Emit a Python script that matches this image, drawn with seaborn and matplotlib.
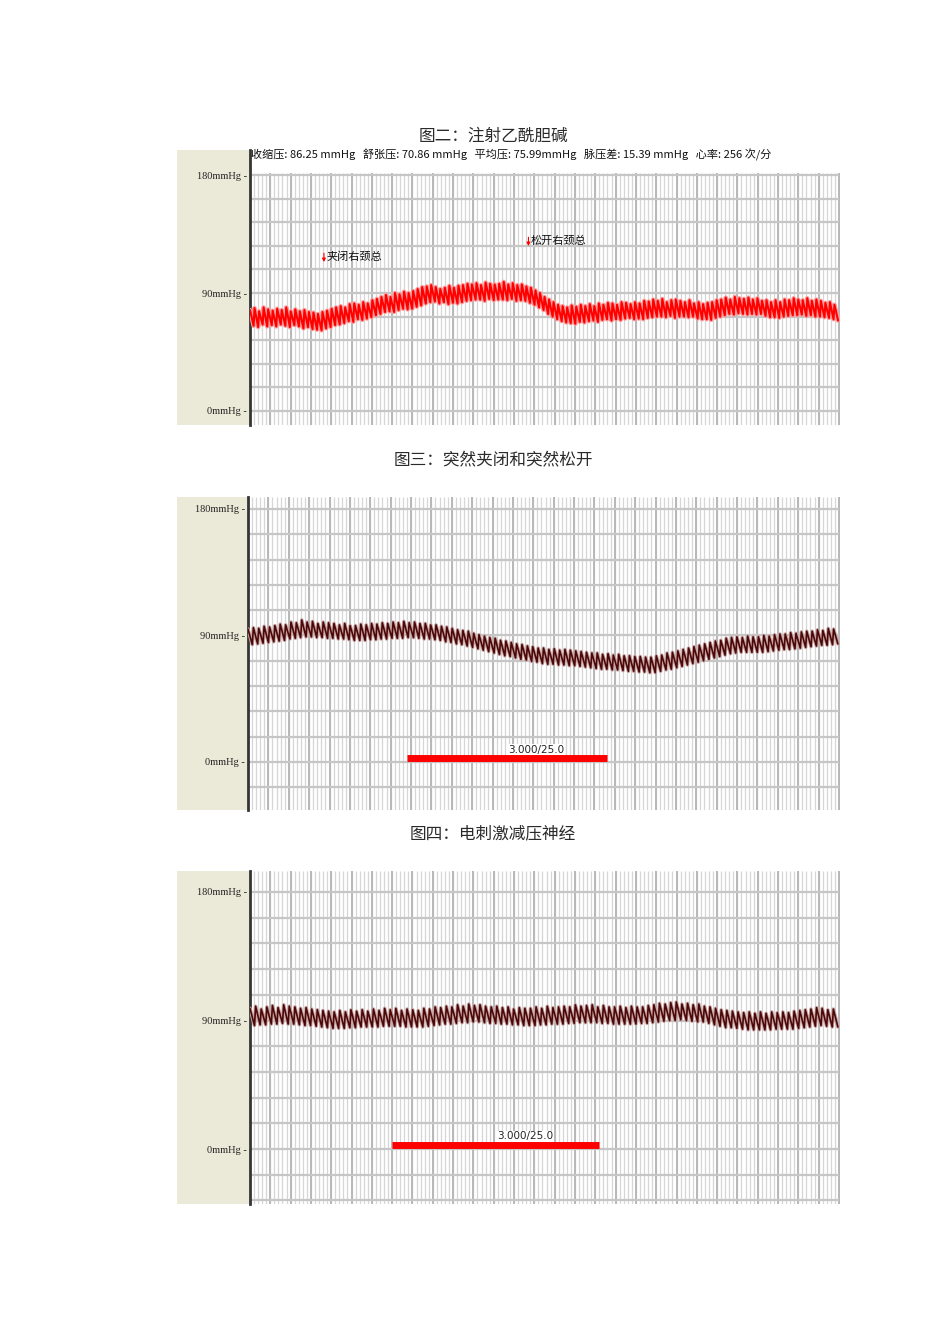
import numpy as np
import seaborn as sns
import matplotlib.pyplot as plt
from matplotlib.patches import Rectangle

sns.set_style('white')
plt.rcParams['font.family'] = ['Noto Sans CJK SC', 'DejaVu Sans']

# --- data (mmHg, one value per heart beat) ---
titles = ['图二：注射乙酰胆碱', '图三：突然夹闭和突然松开', '图四：电刺激减压神经']
header = ('收缩压: 86.25 mmHg   舒张压: 70.86 mmHg   平均压: 75.99mmHg   '
          '脉压差: 15.39 mmHg   心率: 256 次/分')
ytick_vals = [0, 90, 180]
ytick_labels = ['0mmHg -', '90mmHg -', '180mmHg -']

# fig 2: acetylcholine (red trace)
sys1 = [77, 78.5, 76, 79, 77.5, 76.5, 78, 77, 79, 76, 77.5, 76, 77, 75.5, 75,
        74, 75.5, 76.5, 78, 79, 80, 79, 81.5, 82, 81, 83, 82, 84.5, 85.5, 87,
        88.5, 87, 90, 89, 91, 90, 91.5, 93, 94.5, 95, 96, 94.5, 93, 94, 95.5,
        94, 95.5, 96, 97, 96.5, 97.5, 96, 98, 97, 96.5, 97, 98.5, 96.5, 97.5, 96,
        96.5, 95, 94, 92, 90, 87, 85, 83, 81, 80, 79, 80.5, 79.5, 81, 80,
        81.5, 80, 82, 81, 82.5, 82, 81, 83, 82.5, 81.5, 83, 82, 84, 83.5, 85,
        84, 85.5, 83, 84.5, 85, 84, 83, 84.5, 82, 83, 81.5, 82.5, 83, 84.5, 85,
        86.5, 85, 87, 86, 85.5, 86.5, 85, 86, 84, 84.5, 83, 84.5, 83, 85, 84.5,
        86, 85, 84.5, 86, 84, 85, 84, 82.5, 83, 81]
dia1 = [65, 64, 66, 64.5, 65.5, 64.5, 66, 65, 64, 65.5, 64.5, 63, 64, 62.5, 62,
        61.5, 63, 64, 65.5, 66, 67, 68.5, 68, 70, 69.5, 70.5, 71.5, 73, 74, 75.5,
        76, 75.5, 77, 78, 77.5, 78, 79.5, 80.5, 82, 83, 83.5, 82, 83, 81.5, 82.5,
        82, 83, 84, 84.5, 85, 85, 84, 85.5, 84.5, 85, 85, 84.5, 85.5, 84, 84.5,
        84, 82.5, 81, 79, 77, 74, 72, 70, 68.5, 67.5, 67, 66.5, 68, 67.5, 68.5,
        69, 68, 69.5, 70, 69, 70, 69.5, 70.5, 71, 70, 70.5, 70, 71, 71.5, 72,
        72, 71.5, 72.5, 71, 72, 72, 71.5, 72, 70.5, 70, 70, 69.5, 71, 72, 73,
        74, 73.5, 74.5, 74, 73.5, 74, 73.5, 74, 72.5, 71.5, 71.5, 71, 72, 72.5, 73,
        73, 73.5, 72.5, 73, 72, 72, 71.5, 71, 70, 69]

# fig 3: sudden clamp / release
sys2 = [94.5, 95.5, 95, 96.5, 96, 97, 98, 97.5, 99.5, 99, 101, 99.5, 100, 98.5, 99.5,
        99, 98.5, 97.5, 98.5, 97, 97, 98, 97.5, 98.5, 98, 99, 98.5, 99.5, 99, 100,
        99, 99.5, 98.5, 98.5, 97.5, 97.5, 96.5, 96, 95, 94, 93.5, 93, 91.5, 90.5, 89.5,
        88.5, 88, 86.5, 86, 85, 84, 83.5, 82.5, 82, 81, 81, 80, 80.5, 79.5, 80,
        79.5, 79, 78.5, 78, 77.5, 77.5, 76.5, 77, 76, 76.5, 75.5, 75.5, 75, 75, 74.5,
        74.5, 75.5, 76, 77.5, 78, 79, 80, 81, 82, 83, 84, 85, 86, 86.5, 88,
        88.5, 89, 88.5, 89.5, 89, 89, 90, 89.5, 90.5, 91, 91, 92, 91.5, 92.5, 93,
        93, 94, 93.5, 95, 94.5]
dia2 = [83.5, 84, 84.5, 85, 85.5, 86, 86.5, 87.5, 88, 88.5, 89, 89, 88.5, 88.5, 88,
        88, 87.5, 87.5, 87, 86.5, 86.5, 86.5, 87, 87, 87.5, 87.5, 88, 88, 88, 88.5,
        88.5, 88, 87.5, 87.5, 87, 86.5, 85.5, 85, 84, 83.5, 82.5, 81.5, 80.5, 79.5, 78.5,
        77.5, 76.5, 75.5, 75, 74, 73, 72.5, 71.5, 71, 70, 69.5, 69.5, 69, 69, 68.5,
        68.5, 68, 67.5, 67, 66.5, 66, 66, 65.5, 65.5, 65, 64.5, 64.5, 64, 64, 63.5,
        63.5, 64.5, 65.5, 66, 67, 68, 69, 70, 71, 72, 73, 74, 75, 76, 77,
        77.5, 78, 78, 78, 78, 78, 78.5, 79, 79.5, 80, 80, 80.5, 81, 81.5, 82,
        82.5, 83, 83, 83.5, 84]

# fig 4: depressor nerve stimulation
sys3 = [98.5, 100, 98, 99.5, 100.5, 99, 101, 100, 99.5, 98.5, 99, 98, 97.5, 97, 96.5,
        96, 97, 96, 97.5, 96.5, 97.5, 96.5, 98, 97, 98.5, 97.5, 98.5, 97, 98, 97.5,
        97, 98.5, 98, 99.5, 99, 100, 99.5, 101, 100, 101.5, 100.5, 101, 100, 99.5, 100,
        99, 99.5, 98, 99, 98.5, 98.5, 99.5, 98.5, 100, 99, 99.5, 100, 99.5, 101, 100,
        100.5, 101, 99.5, 100.5, 99.5, 99.5, 100, 99, 100, 99.5, 99.5, 100.5, 101, 102, 101.5,
        102.5, 103, 101.5, 102, 101, 101.5, 100, 99.5, 98.5, 97.5, 97, 96.5, 96, 95.5, 96,
        95, 96, 95, 96, 95.5, 96, 95.5, 96.5, 97, 97.5, 98, 99, 98.5, 97.5, 98]
dia3 = [86.5, 87, 87, 87.5, 87.5, 88, 87.5, 87.5, 87, 86.5, 86.5, 86, 85.5, 85, 84.5,
        84.5, 84.5, 85, 85, 85.5, 85.5, 85.5, 85.5, 86, 86, 86, 86, 85.5, 85.5, 85.5,
        85.5, 86, 86.5, 87, 87.5, 87.5, 88, 88.5, 88.5, 89, 89, 88.5, 88, 88, 87.5,
        87.5, 87, 87, 86.5, 86.5, 86.5, 87, 87, 87.5, 87.5, 87.5, 88, 88, 88.5, 88.5,
        88.5, 88.5, 88, 88, 87.5, 87.5, 87.5, 87.5, 87.5, 88, 88, 88.5, 89, 89.5, 90,
        90, 90.5, 90, 89.5, 89, 89, 88, 87, 86, 85, 85, 84.5, 84, 83.5, 83.5,
        83.5, 83.5, 83.5, 84, 84, 84, 84, 84.5, 85, 85.5, 86, 86.5, 86, 85.5, 85.5]

# stimulus marker bars (start, end in s) and their label
stim_bars = [None, (7.8, 17.6), (7.0, 17.2)]
stim_label = '3.000/25.0'

# event marks on fig 2: (time, text)
events1 = [(3.64, '夹闭右颈总'), (13.71, '松开右颈总')]
event_y = [117.5, 129.7]

traces = [(sys1, dia1), (sys2, dia2), (sys3, dia3)]
line_cols = [('#ff0000', '#ff9a9a'), ('#4a0808', '#c9a3a3'), ('#4a0808', '#c9a3a3')]
line_w = [(1.5, 3.2), (1.2, 2.6), (1.2, 2.6)]

# --- layout (figure pixels 950 x 1344) ---
W, H = 950, 1344
panels = [  # left, right, top, bottom (px), ylim, beige left/top
    dict(l=250, r=840, t=150, b=425, ylim=(-10.7, 199.1), grid_top=181.5, beige=(177, 150)),
    dict(l=248, r=840, t=497, b=810, ylim=(-34.2, 188.5), grid_top=188.5, beige=(177, 497)),
    dict(l=250, r=840, t=871, b=1204, ylim=(-38.5, 194.7), grid_top=194.7, beige=(177, 871)),
]
title_y = [136, 460, 834]
T = 29.0

fig = plt.figure(figsize=(9.5, 13.44), dpi=100)

for k, p in enumerate(panels):
    bx, by = p['beige']
    fig.patches.append(Rectangle((bx / W, 1 - p['b'] / H), (p['l'] - bx) / W,
                                 (p['b'] - by) / H, transform=fig.transFigure,
                                 facecolor='#ebe9d8', edgecolor='none', zorder=-1))
    ax = fig.add_axes([p['l'] / W, 1 - p['b'] / H, (p['r'] - p['l']) / W, (p['b'] - p['t']) / H])
    ax.set_facecolor('white')
    ax.set_xlim(0, T + 0.05)
    ax.set_ylim(*p['ylim'])
    gtop = p['grid_top']
    y0 = p['ylim'][0]

    # grid like the recorder screen
    minor = np.arange(0, T + 0.01, 0.2)
    ax.vlines(minor, y0, gtop, color='#d6d6d6', lw=0.9, zorder=1)
    ax.vlines(np.arange(0, T + 0.01, 1.0), y0, gtop, color='#b8b8b8', lw=1.4, zorder=1)
    hl = [v for v in range(-36, 200, 18) if y0 < v <= min(gtop, 180)]
    ax.hlines(hl, 0, T, color='#c6c6c6', lw=1.6, zorder=1)

    # pressure trace: systole then slow fall to diastole
    sys_v, dia_v = traces[k]
    n = len(sys_v)
    dt = T / n
    bx_pos = np.arange(n) * dt
    xs = np.empty(2 * n)
    ys = np.empty(2 * n)
    xs[0::2] = bx_pos
    xs[1::2] = bx_pos + 0.8 * dt
    ys[0::2] = sys_v
    ys[1::2] = dia_v
    col, halo = line_cols[k]
    lw_main, lw_halo = line_w[k]
    sns.lineplot(x=xs, y=ys, ax=ax, color=halo, lw=lw_halo, sort=False, estimator=None, zorder=3)
    sns.lineplot(x=xs, y=ys, ax=ax, color=col, lw=lw_main, sort=False, estimator=None, zorder=4)

    if stim_bars[k] is not None:
        s0, s1 = stim_bars[k]
        ax.hlines(2.8, s0, s1, color='#ff0000', lw=5, zorder=5)
        ax.text((s0 + s1) / 2 + 1.45, 8.8, stim_label, ha='center', va='center',
                fontsize=7.5, family='DejaVu Sans', color='#222222', zorder=6,
                bbox=dict(facecolor='white', edgecolor='none', pad=0.6))

    ax.set_xticks([])
    ax.set_yticks(ytick_vals)
    ax.set_yticklabels(ytick_labels, family='Liberation Serif', fontsize=7.5, color='#222222')
    ax.tick_params(axis='y', length=0, pad=2, left=False, labelleft=True)
    for s in ['top', 'right', 'bottom']:
        ax.spines[s].set_visible(False)
    ax.spines['left'].set_color('#353535')
    ax.spines['left'].set_linewidth(2)

    fig.text(493 / W, 1 - title_y[k] / H, titles[k], ha='center', va='center',
             fontsize=12, color='#2a2a2a')

    if k == 0:
        ax.text(0.05, 195.5, header, ha='left', va='center', fontsize=8,
                color='#111111')
        for (ex, etxt), ey in zip(events1, event_y):
            ax.annotate('', xy=(ex, ey - 6), xytext=(ex, ey + 5),
                        arrowprops=dict(arrowstyle='-|>', color='#ff0000', lw=0.8,
                                        mutation_scale=5), zorder=6)
            ax.text(ex + 0.12, ey, etxt, ha='left', va='center', fontsize=8,
                    color='#111111', zorder=6)

fig.savefig('out.png', dpi=100)
